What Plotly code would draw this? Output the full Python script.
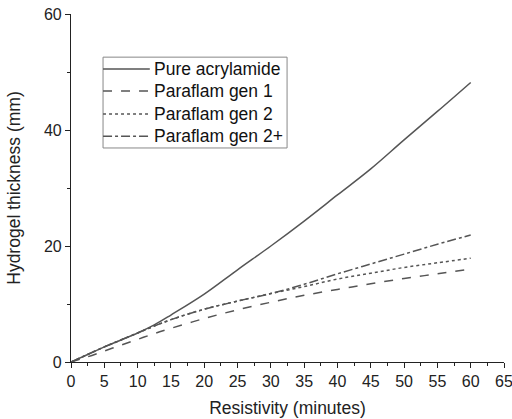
import plotly.graph_objects as go

minutes = [0, 2.5, 5, 7.5, 10, 12.5, 15, 20, 25, 30, 35, 40, 45, 50, 55, 60]
pure = [0, 1.3, 2.6, 3.8, 5.0, 6.4, 8.1, 11.7, 15.9, 20.0, 24.3, 28.8, 33.3, 38.3, 43.2, 48.2]
gen1 = [0, 0.9, 1.9, 2.9, 3.9, 4.9, 5.8, 7.5, 9.0, 10.3, 11.5, 12.5, 13.5, 14.4, 15.2, 16.0]
gen2 = [0, 1.3, 2.6, 3.8, 5.0, 6.2, 7.3, 9.1, 10.5, 11.8, 13.0, 14.3, 15.3, 16.3, 17.1, 17.9]
gen2p = [0, 1.3, 2.6, 3.8, 5.0, 6.2, 7.3, 9.1, 10.5, 11.8, 13.4, 15.2, 16.9, 18.6, 20.3, 21.9]

names = ["Pure acrylamide", "Paraflam gen 1", "Paraflam gen 2", "Paraflam gen 2+"]
series = [pure, gen1, gen2, gen2p]
dashes = ["solid", "dash", "dot", "dashdot"]

x_ticks = list(range(0, 66, 5))
y_ticks = [0, 20, 40, 60]

LINE_COLOR = "#555555"
fig = go.Figure()
for n, s, d in zip(names, series, dashes):
    fig.add_trace(go.Scatter(x=minutes, y=s, name=n, mode="lines", showlegend=False,
                             line=dict(color=LINE_COLOR, width=1.5, dash=d, shape="spline")))

# Legend box drawn in paper coordinates (Origin-style compact legend)
box_x0, box_x1, box_y0, box_y1 = 0.074, 0.499, 0.615, 0.876
row_y = [0.842, 0.779, 0.713, 0.649]
fig.add_shape(type="rect", xref="paper", yref="paper", x0=box_x0, x1=box_x1,
              y0=box_y0, y1=box_y1, line=dict(color="#888888", width=1), fillcolor="white",
              layer="above")
for n, d, yy in zip(names, dashes, row_y):
    fig.add_shape(type="line", xref="paper", yref="paper", x0=box_x0, x1=0.182,
                  y0=yy, y1=yy, line=dict(color=LINE_COLOR, width=1.5, dash=d), layer="above")
    fig.add_annotation(xref="paper", yref="paper", x=0.188, y=yy, text=n, showarrow=False,
                       xanchor="left", yanchor="middle",
                       font=dict(size=17.5, color="#111111"))

font = "Liberation Sans, Arial, sans-serif"
fig.update_layout(
    width=512, height=419,
    margin=dict(l=71, r=8, t=14, b=57),
    plot_bgcolor="white", paper_bgcolor="white",
    font=dict(family=font, size=16, color="#222222"),
    xaxis=dict(range=[0, 65], tickvals=x_ticks, ticks="outside", ticklen=5,
               automargin=False, ticklabeloverflow="allow",
               showgrid=False, zeroline=False, showline=True, linecolor="#222222",
               linewidth=1.2, tickcolor="#222222", tickfont=dict(size=16),
               minor=dict(dtick=2.5, ticks="outside", ticklen=3, tickcolor="#222222"),
               title=dict(text="Resistivity (minutes)", font=dict(size=17.5), standoff=12)),
    yaxis=dict(range=[0, 60], tickvals=y_ticks, ticks="outside", ticklen=5,
               automargin=False, ticklabeloverflow="allow",
               showgrid=False, zeroline=False, showline=True, linecolor="#222222",
               linewidth=1.2, tickcolor="#222222", tickfont=dict(size=16),
               minor=dict(dtick=10, ticks="outside", ticklen=3, tickcolor="#222222"),
               title=dict(text="Hydrogel thickness (mm)", font=dict(size=17.5), standoff=18)),
)
fig.write_html("out.html", config={"displayModeBar": False},
               post_script="document.body.style.margin='0';document.body.style.overflow='hidden';")
